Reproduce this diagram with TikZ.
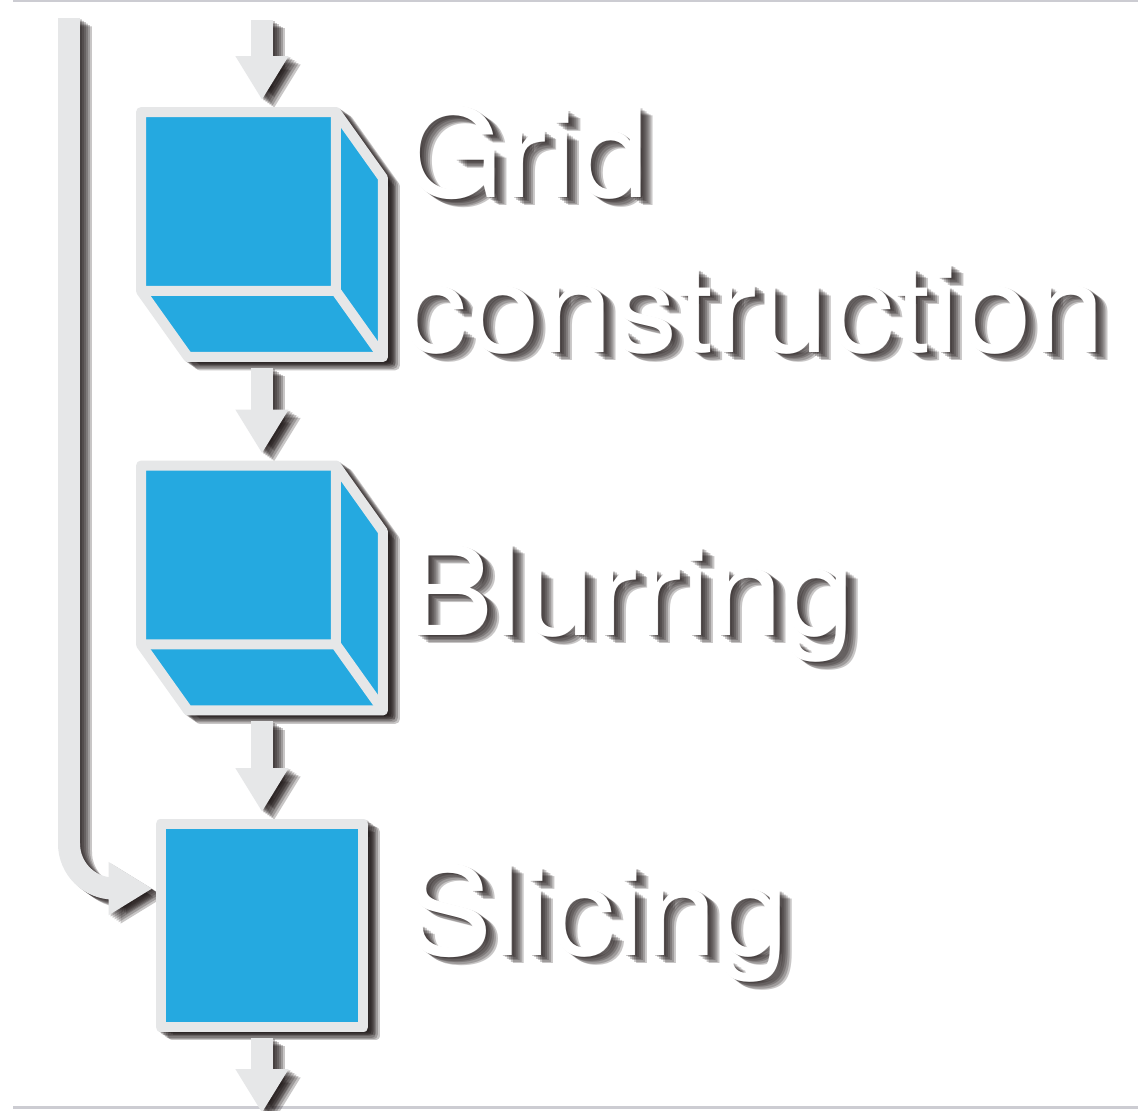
\documentclass[tikz,border=0pt]{standalone}
\usepackage{fontspec}
\setmainfont[FakeStretch=1.06]{TeX Gyre Heros}
\usetikzlibrary{calc,arrows.meta}

\definecolor{cubeblue}{RGB}{37,169,224}
\definecolor{rimgray}{RGB}{230,231,232}
\definecolor{edgegray}{RGB}{204,204,210}
\definecolor{shadowink}{RGB}{28,20,20}

\tikzset{
  holder/.style={rectangle, inner sep=0pt, outer sep=0pt, minimum width=4.84cm, minimum height=4.9cm},
  face/.style={fill=cubeblue, draw=rimgray, line width=0.2cm, line join=round},
  rim/.style={draw=rimgray, line width=0.2cm, line join=round},
  flow/.style={draw=rimgray, line width=0.44cm, -{Triangle[width=1cm,length=0.88cm]}},
  stagename/.style={anchor=base west, align=left, inner sep=0pt, text=white, font=\fontsize{70}{88}\selectfont},
  shadowed/.style={face/.style={fill=shadowink, draw=shadowink, line width=0.2cm, line join=round},
    rim/.style={}, flow/.append style={draw=shadowink}, stagename/.append style={text=shadowink}}
}

\newcommand\stagelayer{%
  \foreach \n in {grid,blur}{%
    \path[face] (\n.north west) -- ($(\n.north east)+(-47,0)$) -- ($(\n.north east)+(0,66)$)
      -- (\n.south east) -- ($(\n.south west)+(47,0)$) -- ($(\n.south west)+(0,-66)$) -- cycle;
    \path[rim] ($(\n.north east)+(-47,0)$) -- ($(\n.south east)+(-47,-66)$) -- ($(\n.south west)+(0,-66)$)
      ($(\n.south east)+(-47,-66)$) -- (\n.south east);
  }
  \path[face] (slice.north west) rectangle (slice.south east);
  \draw[flow, shorten >=0.24cm] (feed) -- (grid.north);
  \draw[flow, shorten <=0.22cm, shorten >=0.24cm] (grid.south) -- (blur.north);
  \draw[flow, shorten <=0.22cm, shorten >=0.24cm] (blur.south) -- (slice.north);
  \draw[flow, shorten <=0.22cm] (slice.south) -- (drain);
  \draw[flow, rounded corners=0.9cm, shorten >=0.16cm] (bypass) |- (slice.160);
  \node[stagename] (gridtxt) at (402,352) {Grid\\construction};
  \node[stagename] (blurtxt) at (406,635) {Blurring};
  \node[stagename] (slicetxt) at (405,955) {Slicing};
}

\begin{document}
\begin{tikzpicture}[x=0.02cm, y=-0.02cm]
\useasboundingbox (0,0) rectangle (1138,1110);
\fill[white] (0,0) rectangle (1138,1110);
\draw[edgegray, line width=0.05cm] (13,1) -- (1138,1);
\draw[edgegray, line width=0.06cm] (13,1107) -- (1138,1107);

\node[holder] (grid) at (262,234.5) {};
\node[holder] (blur) at (262,588) {};
\node[holder, minimum width=4.06cm, minimum height=4.06cm] (slice) at (262,925.5) {};
\coordinate (feed) at ($(grid.north)+(0,-92)$);
\coordinate (drain) at ($(slice.south)+(0,86)$);
\coordinate (bypass) at (69,18);

\foreach \s in {2,4,...,12}{
  \begin{scope}[transform canvas={shift={(\s*0.02cm,-\s*0.014cm)}}, opacity=0.24, shadowed]
    \stagelayer
  \end{scope}
}
\stagelayer
\end{tikzpicture}
\end{document}
